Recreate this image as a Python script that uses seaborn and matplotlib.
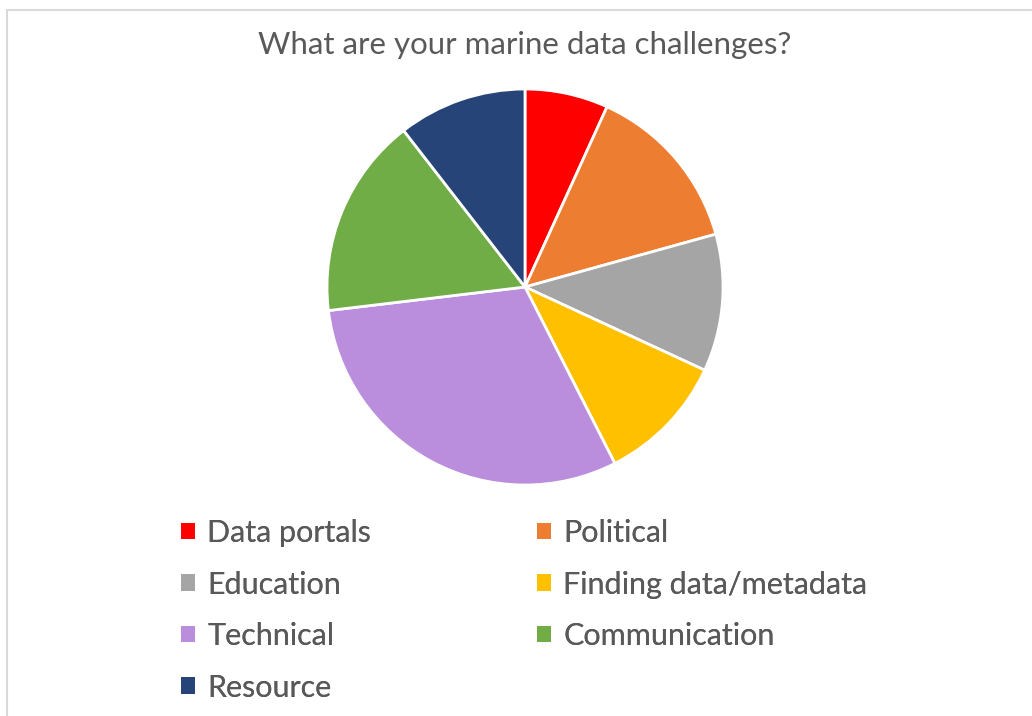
import matplotlib
matplotlib.use("Agg")
import matplotlib.pyplot as plt
from matplotlib.patches import Patch
from matplotlib.lines import Line2D
import seaborn as sns

sns.set_theme(style="white")
plt.rcParams["font.family"] = ["Lato", "DejaVu Sans"]

# 数据（按图读数，单位：%）
categories = ["Data portals", "Political", "Education", "Finding data/metadata",
              "Technical", "Communication", "Resource"]
shares = [6.8, 13.9, 11.2, 10.6, 30.6, 16.4, 10.5]
colors = ["#FF0000", "#ED7D31", "#A5A5A5", "#FFC000", "#BA8EDC", "#70AD47", "#264478"]

TEXT = "#595959"
W, H = 1032, 716

fig = plt.figure(figsize=(W / 100, H / 100), dpi=100)
fig.patch.set_facecolor("white")

# chart area border (top and left visible)
fig.add_artist(Line2D([7 / W, 7 / W], [0, 1 - 10 / H], transform=fig.transFigure,
                      color="#D9D9D9", lw=1.5))
fig.add_artist(Line2D([7 / W, 1], [1 - 10 / H, 1 - 10 / H], transform=fig.transFigure,
                      color="#D9D9D9", lw=1.5))

cx, cy, r = 525, 287, 198
ax = fig.add_axes([(cx - r) / W, (H - cy - r) / H, 2 * r / W, 2 * r / H])
ax.pie(shares, colors=colors, startangle=90, counterclock=False, radius=1,
       wedgeprops={"edgecolor": "white", "linewidth": 2})
ax.set_xlim(-1.0, 1.0)
ax.set_ylim(-1.0, 1.0)
ax.set_axis_off()

fig.text(cx / W, 1 - 45 / H, "What are your marine data challenges?",
         ha="center", va="center", fontsize=22.5, color=TEXT)

handles = [Patch(facecolor=c, edgecolor="none") for c in colors]
left = [0, 2, 4, 6]
right = [1, 3, 5]
for idx, x0 in [(left, 181), (right, 537)]:
    leg = fig.legend([handles[i] for i in idx], [categories[i] for i in idx],
                     loc="upper left", bbox_to_anchor=(x0 / W, 1 - 519 / H),
                     frameon=False, fontsize=22, labelcolor=TEXT,
                     handlelength=0.46, handleheight=0.46, handletextpad=0.4,
                     labelspacing=0.77, borderpad=0, borderaxespad=0)
    fig.add_artist(leg)

fig.savefig("out.png", dpi=100)
plt.close(fig)
